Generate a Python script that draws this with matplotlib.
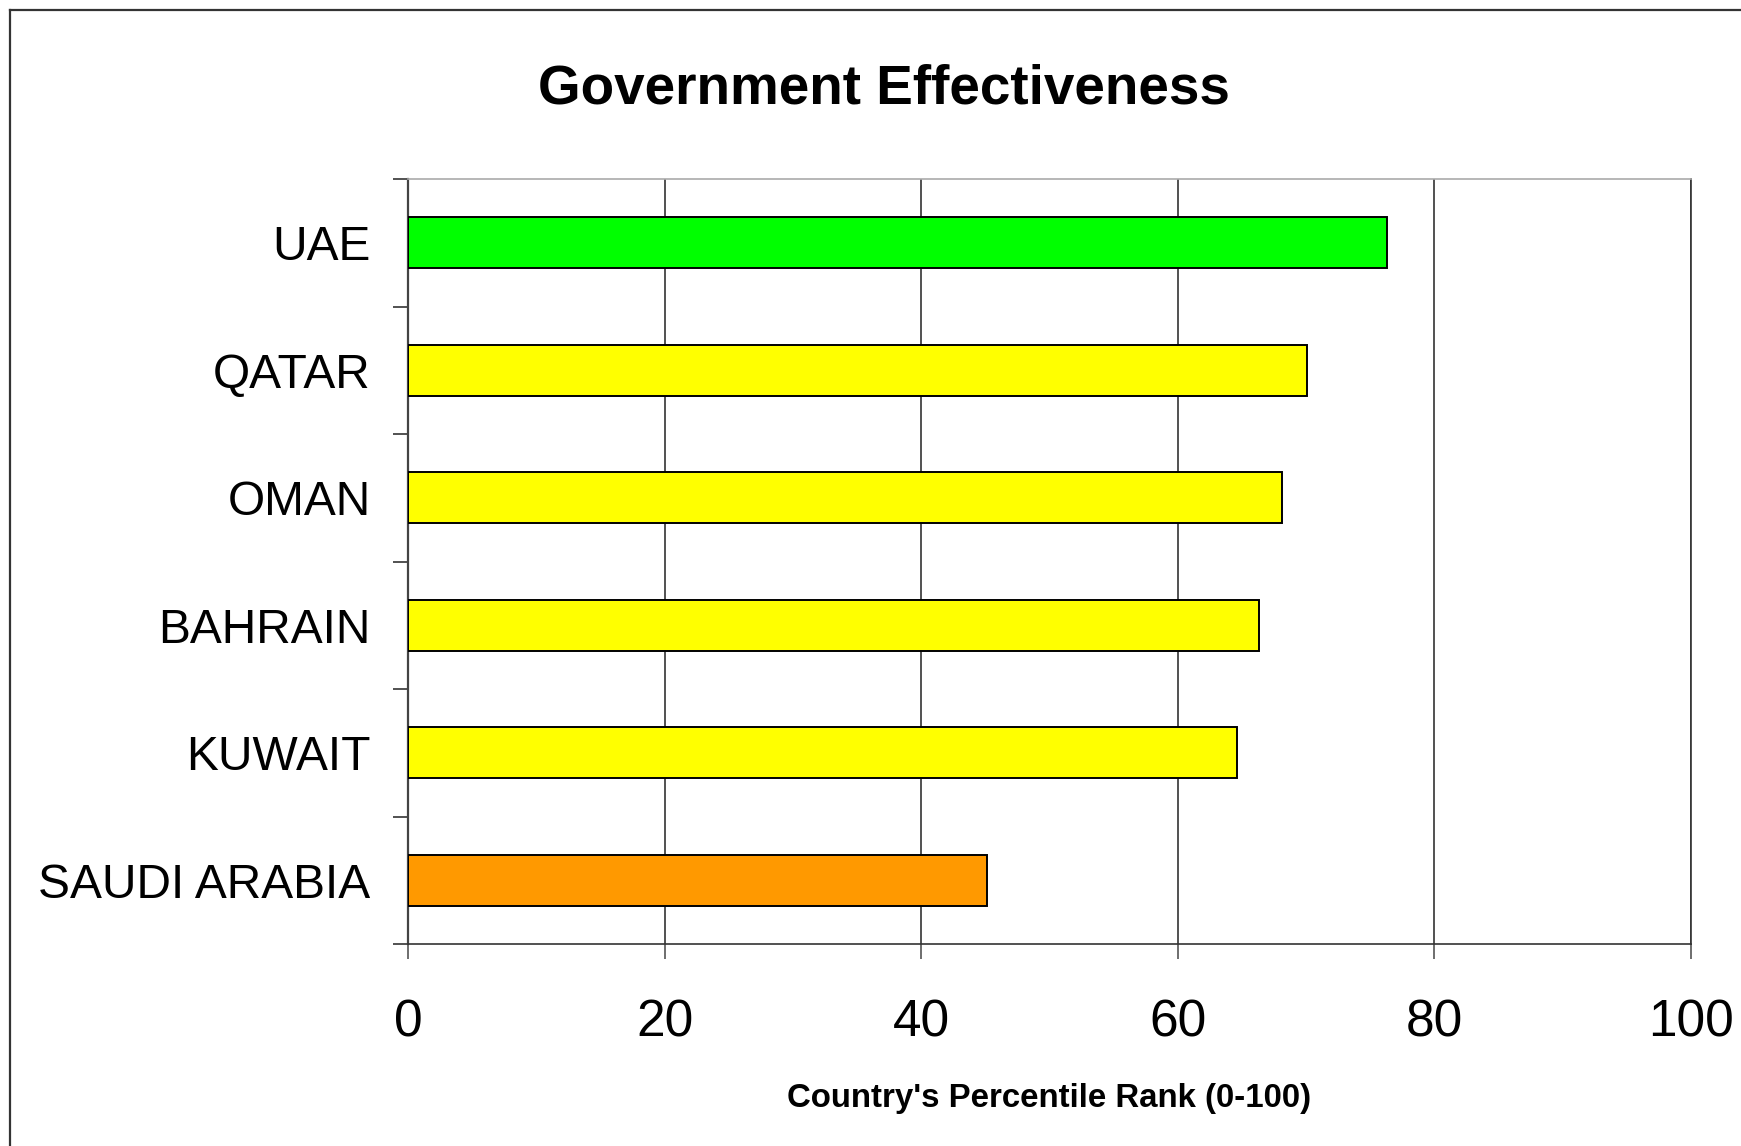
import matplotlib.pyplot as plt
import numpy as np
from matplotlib.lines import Line2D

countries = ["SAUDI ARABIA", "KUWAIT", "BAHRAIN", "OMAN", "QATAR", "UAE"]
ranks = [45.1, 64.6, 66.3, 68.1, 70.1, 76.3]
colors = ["#FF9900", "#FFFF00", "#FFFF00", "#FFFF00", "#FFFF00", "#00FF00"]

plt.rcParams['font.family'] = ['Liberation Sans', 'DejaVu Sans']

fig = plt.figure(figsize=(17.41, 11.46), dpi=100)
ax = fig.add_axes([408/1741, 1 - 944/1146, (1691-408)/1741, (944-179)/1146])

y = np.arange(len(countries))
ax.barh(y, ranks, height=0.4, color=colors, edgecolor="black", linewidth=1.4, zorder=3)

ax.set_xlim(0, 100)
ax.set_ylim(-0.5, len(countries) - 0.5)

# vertical gridlines
ax.set_xticks(np.arange(0, 101, 20))
ax.grid(axis="x", color="#333333", linewidth=1.2, zorder=1)
ax.tick_params(axis="x", direction="out", length=11, width=1.2, color="#555555",
               labelsize=37, pad=28)

# category ticks sit between bars, names at bar centres
ax.set_yticks(np.arange(-0.5, len(countries)), labels=[])
ax.set_yticks(y, labels=countries, minor=True)
ax.tick_params(axis="y", which="major", direction="out", length=11, width=1.2, color="#333333")
ax.tick_params(axis="y", which="minor", length=0, labelsize=34.5, pad=27)

ax.spines["left"].set_color("#444444")
ax.spines["left"].set_linewidth(1.6)
ax.spines["bottom"].set_color("#333333")
ax.spines["bottom"].set_linewidth(1.2)
ax.spines["right"].set_color("#333333")
ax.spines["right"].set_linewidth(1.2)
ax.spines["top"].set_color("#aaaaaa")
ax.spines["top"].set_linewidth(1.2)

ax.set_xlabel("Country's Percentile Rank (0-100)", fontsize=23.8, fontweight="bold", labelpad=26)
fig.text(884/1741, 1 - 104/1146, "Government Effectiveness", fontsize=39.5, fontweight="bold",
         ha="center", va="baseline")

# outer frame (top and left edges)
fig.add_artist(Line2D([10/1741, 10/1741], [0, 1 - 10/1146], color="#333333", linewidth=1.6))
fig.add_artist(Line2D([10/1741, 1], [1 - 10/1146, 1 - 10/1146], color="#333333", linewidth=1.6))

fig.savefig("out.png", dpi=100)
